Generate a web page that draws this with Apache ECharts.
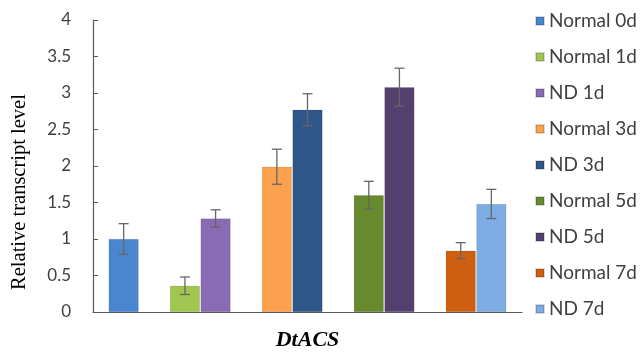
<!DOCTYPE html>
<html>
<head>
<meta charset="utf-8">
<script src="https://cdn.jsdelivr.net/npm/echarts@6/dist/echarts.min.js"></script>
<style>html,body{margin:0;padding:0;background:#fff;}#c{width:640px;height:356px;}</style>
</head>
<body>
<div id="c"></div>
<script>
// ---- data ----
const seriesNames = ['Normal 0d', 'Normal 1d', 'ND 1d', 'Normal 3d', 'ND 3d', 'Normal 5d', 'ND 5d', 'Normal 7d', 'ND 7d'];
const values = [1.00, 0.36, 1.28, 1.99, 2.77, 1.60, 3.08, 0.84, 1.48];
const errors = [0.21, 0.12, 0.12, 0.24, 0.22, 0.19, 0.26, 0.11, 0.20];
const colors = ['#4A86D0', '#A1C64F', '#8A6AB2', '#FBA14D', '#2E5689', '#678A2F', '#54406E', '#CF5F10', '#7DADE3'];
const yTicks = [0, 0.5, 1, 1.5, 2, 2.5, 3, 3.5, 4];
const xTitle = 'DtACS';
const yTitle = 'Relative transcript level';

// build category slots: a spacer before each day group and at the end
const categories = [];
let lastDay = null;
seriesNames.forEach((n, i) => {
  const day = n.split(' ')[1];
  if (day !== lastDay) { categories.push('gap' + categories.length); lastDay = day; }
  categories.push(n);
});
categories.push('gap' + categories.length);

const barSeries = seriesNames.map((n, i) => ({
  name: n,
  type: 'bar',
  stack: 'all',
  barWidth: 30,
  itemStyle: { color: colors[i], borderColor: 'rgba(0,0,0,0.15)', borderWidth: 0.6 },
  data: categories.map(c => c === n ? values[i] : null)
}));

const errData = seriesNames.map((n, i) => [n, values[i] - errors[i], values[i] + errors[i]]);

const errSeries = {
  type: 'custom',
  name: 'err',
  z: 10,
  data: errData,
  encode: { x: 0, y: [1, 2] },
  renderItem: function (params, api) {
    const x = api.value(0);
    const lo = api.coord([x, api.value(1)]);
    const hi = api.coord([x, api.value(2)]);
    const hw = 5;
    const st = { stroke: '#666666', lineWidth: 1.3 };
    return {
      type: 'group',
      children: [
        { type: 'line', shape: { x1: lo[0], y1: lo[1], x2: hi[0], y2: hi[1] }, style: st },
        { type: 'line', shape: { x1: lo[0] - hw, y1: lo[1], x2: lo[0] + hw, y2: lo[1] }, style: st },
        { type: 'line', shape: { x1: hi[0] - hw, y1: hi[1], x2: hi[0] + hw, y2: hi[1] }, style: st }
      ]
    };
  }
};

const chart = echarts.init(document.getElementById('c'), null, { renderer: 'canvas' });
chart.setOption({
  animation: false,
  backgroundColor: '#ffffff',
  grid: { left: 93, right: 118, top: 20, bottom: 36, containLabel: false },
  legend: {
    data: seriesNames,
    orient: 'vertical',
    left: 530,
    top: 6,
    icon: 'rect',
    itemWidth: 8,
    itemHeight: 8,
    itemGap: 16,
    textStyle: { fontFamily: 'Lato', fontSize: 19, color: '#404040', lineHeight: 20 }
  },
  xAxis: {
    type: 'category',
    data: categories,
    boundaryGap: false,
    axisLine: { lineStyle: { color: '#595959', width: 1.2 } },
    axisTick: { show: false },
    axisLabel: { show: false },
    splitLine: { show: false },
    name: xTitle,
    nameLocation: 'middle',
    nameGap: 17,
    nameTextStyle: { fontFamily: 'Liberation Serif', fontSize: 22, fontWeight: 'bold', fontStyle: 'italic', color: '#000' }
  },
  yAxis: {
    type: 'value',
    min: yTicks[0],
    max: yTicks[yTicks.length - 1],
    interval: yTicks[1] - yTicks[0],
    axisLine: { show: true, lineStyle: { color: '#595959', width: 1.2 } },
    axisTick: { show: true, inside: true, length: 5, lineStyle: { color: '#595959' } },
    splitLine: { show: false },
    axisLabel: { margin: 22, fontFamily: 'Lato', fontSize: 17, color: '#404040' }
  },
  graphic: [{
    type: 'text',
    x: 20,
    y: 192,
    rotation: Math.PI / 2,
    style: { text: yTitle, font: '20.5px "Liberation Serif"', fill: '#000', textAlign: 'center', textVerticalAlign: 'middle' }
  }],
  series: barSeries.concat([errSeries])
});
</script>
</body>
</html>
